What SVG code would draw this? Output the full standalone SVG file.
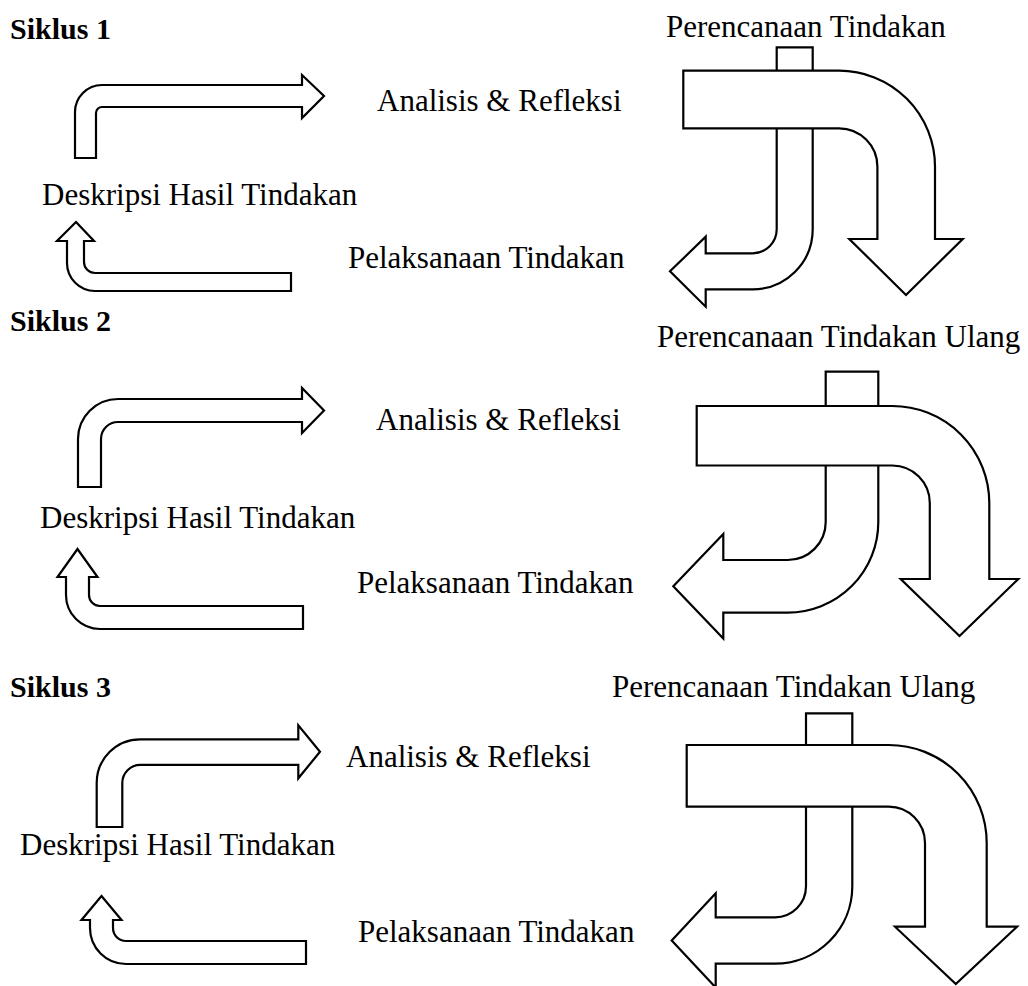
<svg xmlns="http://www.w3.org/2000/svg" width="1028" height="986" viewBox="0 0 1028 986">
<style>
.t{font-family:"Liberation Serif","Times New Roman",serif;font-size:31px;fill:#000}
.b{font-family:"Liberation Serif","Times New Roman",serif;font-size:30px;font-weight:bold;fill:#000}
.a{fill:#fff;stroke:#000;stroke-width:2.2;stroke-linejoin:miter}
</style>
<rect width="1028" height="986" fill="#fff"/>
<g id="labels">
<text class="b" x="10" y="39">Siklus 1</text>
<text class="b" x="10" y="331">Siklus 2</text>
<text class="b" x="10" y="697">Siklus 3</text>
</g>
<g id="cycle1">
<g id="c1-plan"><text class="t" x="666" y="37">Perencanaan Tindakan</text></g>
<g id="c1-analysis"><text class="t" x="377" y="111">Analisis &amp; Refleksi</text></g>
<g id="c1-desc"><text class="t" x="42" y="205">Deskripsi Hasil Tindakan</text></g>
<g id="c1-exec"><text class="t" x="348" y="268">Pelaksanaan Tindakan</text></g>
</g>
<g id="cycle2">
<g id="c2-plan"><text class="t" x="657" y="347">Perencanaan Tindakan Ulang</text></g>
<g id="c2-analysis"><text class="t" x="376" y="430">Analisis &amp; Refleksi</text></g>
<g id="c2-desc"><text class="t" x="40" y="528">Deskripsi Hasil Tindakan</text></g>
<g id="c2-exec"><text class="t" x="357" y="593">Pelaksanaan Tindakan</text></g>
</g>
<g id="cycle3">
<g id="c3-plan"><text class="t" x="612" y="697">Perencanaan Tindakan Ulang</text></g>
<g id="c3-analysis"><text class="t" x="346" y="767">Analisis &amp; Refleksi</text></g>
<g id="c3-desc"><text class="t" x="20" y="855">Deskripsi Hasil Tindakan</text></g>
<g id="c3-exec"><text class="t" x="358" y="942">Pelaksanaan Tindakan</text></g>
</g>
<g id="connectors">
<!-- cycle 1 -->
<path class="a" d="M75,158 L75,112 A27,27 0 0 1 102,85 L302,85 L302,75 L324,96 L302,118 L302,107 L102,107 A6,6 0 0 0 96,113 L96,158 Z"/>
<path class="a" d="M76,222 L94,241 L84,241 L84,262 A11,11 0 0 0 95,273 L291,273 L291,291 L95,291 A28,28 0 0 1 67,263 L67,241 L57,241 Z"/>
<path class="a" d="M776.7,47.3 L776.7,229.3 A24,24 0 0 1 752.7,253.3 L705.7,253.3 L705.7,236.7 L670,271.3 L705.7,306.7 L705.7,289.3 L752.7,289.3 A60,60 0 0 0 812.7,229.3 L812.7,47.3 Z"/>
<path class="a" d="M683.3,70.7 L839,70.7 A96,96 0 0 1 935,166.7 L935,239 L962.7,239 L906,295 L849.3,239 L877.4,239 L877.4,166.7 A38.4,38.4 0 0 0 839,128.3 L683.3,128.3 Z"/>
<!-- cycle 2 -->
<path class="a" d="M78,487 L78,439 A40,40 0 0 1 118,399 L302,399 L302,388 L324,410.5 L302,433 L302,422 L118,422 A17,17 0 0 0 101,439 L101,487 Z"/>
<path class="a" d="M77.5,549 L97.5,577 L89,577 L89,595 A11,11 0 0 0 100,606 L303,606 L303,629 L100,629 A34,34 0 0 1 66,595 L66,577 L57.5,577 Z"/>
<path class="a" d="M825.7,371.7 L825.7,522 A38,38 0 0 1 787.7,560 L723.3,560 L723.3,534 L673.3,586.3 L723.3,638.6 L723.3,612.6 L787.7,612.6 A90.6,90.6 0 0 0 878.3,522 L878.3,371.7 Z"/>
<path class="a" d="M696.7,406 L892.3,406 A97,97 0 0 1 989.3,503 L989.3,579 L1018.3,579 L959.5,636 L900.7,579 L929.8,579 L929.8,503 A37.5,37.5 0 0 0 892.3,465.5 L696.7,465.5 Z"/>
<!-- cycle 3 -->
<path class="a" d="M96.7,827 L96.7,782.9 A43.6,43.6 0 0 1 140.3,739.3 L298.3,739.3 L298.3,725.3 L320,751.8 L298.3,778.3 L298.3,764.9 L140.3,764.9 A18,18 0 0 0 122.3,782.9 L122.3,827 Z"/>
<path class="a" d="M101.5,896 L121.5,920 L113,920 L113,928 A13,13 0 0 0 126,941 L306,941 L306,964 L126,964 A36,36 0 0 1 90,928 L90,920 L81.5,920 Z"/>
<path class="a" d="M806,713.3 L806,886.3 A31,31 0 0 1 775,917.3 L715.7,917.3 L715.7,893.3 L671.7,940.4 L715.7,987.5 L715.7,963.6 L775,963.6 A77.3,77.3 0 0 0 852.3,886.3 L852.3,713.3 Z"/>
<path class="a" d="M686.7,745 L888.7,745 A98,98 0 0 1 986.7,843 L986.7,926.7 L1017,926.7 L955.8,984 L895,926.7 L925,926.7 L925,843 A36.3,36.3 0 0 0 888.7,806.7 L686.7,806.7 Z"/>
</g>
</svg>
